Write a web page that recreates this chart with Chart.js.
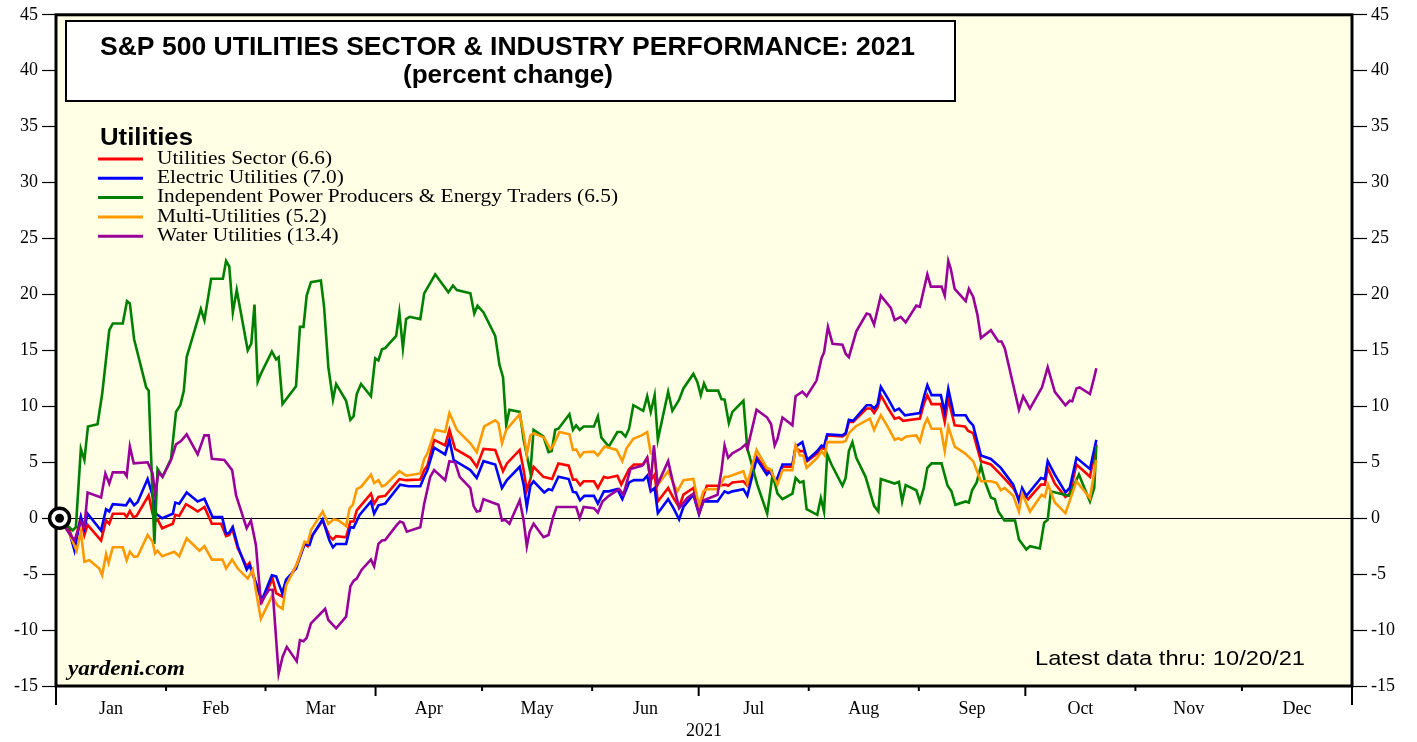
<!DOCTYPE html>
<html>
<head>
<meta charset="utf-8">
<script src="https://cdn.jsdelivr.net/npm/chart.js"></script>
<style>
  body { margin: 0; background: #fff; }
  #wrap { width: 1417px; height: 742px; }
</style>
</head>
<body>
<div id="wrap"><canvas id="perfChart" width="1417" height="742"></canvas></div>
<script>
// x = day of year 2021 (Jan 1 = 1), y = percent change since year end
const utilitiesSector = [[1,0],[3.8,-1.1],[5.2,-2.3],[7,0.1],[8,-1.5],[8.9,-0.6],[12.7,-2.0],[14.1,-0.2],[15,-0.5],[16,0.4],[19.2,0.4],[19.9,0.1],[20.8,0.65],[21.8,0.1],[22.7,0.2],[26.1,2.05],[27.2,0.4],[27.9,-0.3],[28.6,-0.1],[29.9,-0.9],[32.9,-0.5],[33.6,0.3],[34.7,0.2],[36.6,1.25],[38.5,0.9],[39.9,0.6],[41.8,1.0],[43.9,-0.5],[46.5,-0.5],[47.9,-1.6],[48.8,-1.5],[49.6,-0.9],[51.2,-2.7],[53.7,-4.3],[54.5,-4.0],[56.3,-5.8],[58,-7.5],[61,-5.4],[62,-6.7],[63.7,-7.0],[64.8,-5.8],[67.6,-4.3],[70,-2.3],[70.9,-2.5],[72.3,-1.5],[75.1,-0.2],
  [77,-1.6],[78,-1.9],[78.9,-1.6],[81.7,-1.7],[82.9,-0.3],[83.8,-0.3],[84.7,0.7],[88.7,2.2],[89.6,1.3],[90.8,1.9],[92.7,2.0],[96.7,3.5],[98.6,3.4],[102.6,3.45],[103.7,4.3],[104.6,4.7],[106.5,7.0],[109.6,6.5],[110.8,7.9],[112.4,6.2],[116.7,5.4],[118.5,4.6],[120.4,6.2],[123.7,6.1],[125.9,4.2],[127,4.9],[130.6,6.1],[131.7,4.3],[132.6,2.5],[133.6,3.5],[134.5,4.6],[137.3,3.7],[139.7,3.5],[141.5,4.9],[144.4,4.7],[145.6,3.45],[146.5,3.45],[147.6,2.95],[148.6,3.3],
  [151.5,3.3],[152.6,2.7],[154.3,3.7],[155.3,3.6],[158.1,3.8],[159.2,3.0],[161.4,4.4],[162.8,4.8],[165.4,4.8],[166.5,5.4],[167.5,3.4],[168.6,3.9],[169.5,1.5],[172.4,2.7],[173.9,1.8],[175.5,1.0],[176.7,2.1],[179.5,2.7],[181.1,0.9],[182.3,2.0],[183.3,2.9],[186.3,2.9],[188.6,3.0],[189.3,2.9],[190.5,3.2],[193.6,3.3],[194.7,2.9],[197.3,5.5],[200.2,4.2],[201.1,4.2],[202.7,3.2],[204.6,4.6],[207.4,4.6],[208.3,6.3],[209.5,6.0],[210.7,6.0],[211.6,5.1],[214.4,5.8],[215.4,6.3],[216.3,6.2],[217.2,7.4],[221.5,7.3],[222.4,7.5],[223.3,8.6],
  [224.5,8.6],[228.3,9.8],[229.5,9.8],[230.4,9.4],[231.4,9.9],[232.3,11.0],[234.4,9.8],[236.2,8.9],[237.4,9.0],[238.6,8.7],[243.3,8.9],[244.5,10.3],[245.4,11.0],[246.6,10.2],[249.2,10.2],[250.3,8.6],[251.3,10.65],[253.1,8.3],[256,8.2],[256.9,7.8],[258.3,7.6],[260.5,5.1],[263.3,4.8],[266.1,3.9],[269.6,2.7],[271.2,1.8],[272.1,2.3],[273.8,1.7],[277.4,3.0],[278.5,3.0],[279.3,4.5],[281.3,3.1],[284.3,1.9],[285.5,2.2],[287.4,4.8],[291.2,3.7],[293,6.6]];

const electricUtilities = [[1,0],[3.8,-1.3],[5.2,-2.9],[7,0.1],[8,-0.9],[8.9,0.4],[12.7,-1.1],[14.1,0.8],[15,0.6],[16,1.25],[19.7,1.15],[20.8,1.7],[22,1.15],[23,1.45],[25.8,3.5],[27.2,2.05],[28.2,0.4],[29.9,0],[32.9,0.4],[33.6,1.4],[34.7,1.3],[36.8,2.3],[39.9,1.5],[41.8,1.75],[44.1,0.1],[46.8,0.1],[47.9,-1.4],[48.8,-1.3],[49.8,-0.8],[51.2,-2.5],[53.7,-4.6],[54.5,-4.2],[56.3,-5.8],[58,-7.3],[60.8,-5.1],[62,-5.2],[63.7,-6.7],[64.8,-5.5],[67.6,-4.5],[70,-2.3],[71.4,-2.4],[72.3,-1.5],[75.1,-0.1],
  [77,-2.0],[78,-2.6],[78.9,-2.3],[81.7,-2.3],[82.9,-0.8],[83.8,-0.85],[85.5,0.3],[88.7,1.5],[89.6,0.4],[90.8,1.15],[92.7,1.3],[96.9,3.0],[99.3,2.85],[102.6,2.85],[103.7,3.7],[104.6,4.3],[106.5,6.3],[109.6,5.7],[110.8,7.0],[112,5.2],[116.7,4.3],[118.5,3.6],[120.4,5.1],[123.7,4.8],[125.6,2.7],[127,3.4],[130.6,4.6],[131.7,3.0],[132.6,1.0],[133.6,2.9],[134.5,3.3],[137.5,2.3],[138.7,2.6],[139.7,2.5],[141.5,3.7],[144.4,3.5],[145.6,2.35],[146.5,2.3],[147.6,1.6],[148.8,2.0],
  [151.5,2.0],[152.6,1.3],[154.3,2.4],[155.7,2.4],[158.1,2.6],[159.5,1.7],[161.4,3.2],[162.8,3.4],[165.4,3.4],[166.5,3.8],[167.5,2.4],[168.6,2.7],[169.5,0.45],[172.4,1.7],[173.9,0.9],[175.5,-0.1],[176.7,1.0],[179.5,2.1],[181.1,0.35],[182.3,1.5],[183.3,1.5],[186.3,1.5],[188.3,2.4],[189.3,2.25],[190.5,2.4],[193.6,2.6],[194.7,2.0],[197.3,5.3],[200.2,3.9],[201.1,4.2],[202.7,3.2],[204.6,4.8],[207.4,4.8],[208.3,6.4],[210.2,6.8],[211.6,5.2],[214.4,6.0],[215.6,6.5],[216.3,6.4],[217.2,7.5],[221.5,7.4],[222.4,7.6],[223.3,8.8],
  [224.5,8.7],[228.3,10.1],[229.5,10.1],[230.4,9.8],[231.4,10.2],[232.3,11.75],[234.4,10.65],[236.2,9.6],[237.4,9.8],[239.1,9.2],[243.3,9.4],[244.5,10.9],[245.4,11.9],[246.6,11.0],[249.2,11.0],[250.3,9.5],[251.3,11.55],[252.9,9.2],[256.2,9.2],[257.1,8.7],[258.3,8.3],[260.5,5.6],[263.3,5.3],[266.1,4.5],[269.6,3.0],[271.2,1.5],[272.1,2.7],[273.3,2.0],[277.4,3.6],[278.5,3.5],[279.3,5.1],[281.3,3.9],[284.3,2.3],[285.5,2.7],[287.4,5.4],[291.2,4.4],[293,7.0]];

const powerProducers = [[1,0],[3,-0.6],[4.7,-1.1],[5.6,-0.8],[7,6.2],[8,5.2],[9,8.2],[11.7,8.4],[13,11.1],[15,16.8],[16,17.4],[18.8,17.4],[20,19.4],[20.8,19.2],[22,16.0],[25.4,11.7],[26.1,11.4],[27.7,-2.3],[28.6,4.4],[30,3.7],[32.4,5.3],[33.8,9.5],[35,10.1],[36,11.4],[36.8,14.4],[38.5,16.2],[40.8,18.7],[41.8,17.7],[43.7,21.4],[47,21.4],[47.9,23.0],[48.8,22.5],[49.8,18.4],[50.9,20.4],[54,15.0],[55,15.6],[55.9,19.1],[56.8,12.2],[57.7,12.9],[60.8,14.9],[62,14.2],[62.7,14.4],[63.8,10.2],[67.6,11.8],[68.7,17.1],[69.7,17.1],[70.6,19.9],[71.8,21.1],[74.6,21.25],
  [75.5,18.9],[76.7,13.5],[78,10.6],[78.9,12.0],[81.7,10.5],[82.9,8.8],[83.8,9.1],[84.7,11.1],[85.9,12.0],[88.7,10.9],[89.9,14.3],[90.8,14.1],[91.8,15.1],[92.7,15.2],[95.8,16.3],[96.7,18.4],[97.7,15.2],[98.6,17.8],[99.6,18.0],[102.6,17.8],[103.7,20.1],[106.8,21.8],[110.5,20.2],[111.8,20.8],[112.9,20.4],[116.7,20.1],[117.8,18.3],[118.7,19.0],[120.4,18.4],[123.7,16.3],[124.9,13.7],[125.9,12.6],[126.8,8.3],[127.7,9.7],[130.6,9.5],[131.7,7.0],[133.6,4.1],[134.5,7.9],[137.3,7.3],[138.7,5.9],[139.6,6.0],[140.6,7.9],[141.5,8.0],[144.6,9.3],[145.6,7.9],[146.5,8.3],[147.5,7.9],[148.6,8.2],
  [151.5,8.2],[152.6,9.1],[153.6,7.2],[155.7,6.4],[158.1,7.7],[159.2,7.7],[160.4,7.3],[161.4,8.0],[162.6,10.1],[165.4,9.6],[166.5,10.9],[167.5,9.5],[168.6,11.0],[169.5,7.0],[172.4,11.3],[173.6,9.6],[175.5,10.6],[176.7,11.6],[179.5,12.9],[180.6,12.2],[181.6,11.0],[182.5,12.05],[183.4,11.4],[186.5,11.4],[187.4,10.65],[188.3,10.6],[189.5,8.5],[190.5,9.5],[193.6,10.5],[194.7,6.25],[197.5,3.0],[200.3,0.4],[201.8,3.9],[203.2,2.2],[204.6,1.7],[207.4,2.2],[208.3,3.6],[209.5,3.2],[210.5,3.3],[211.4,0.8],[214.4,0.3],[215.4,1.8],[216.3,0.6],[217.2,5.7],[218.4,4.8],[221.5,2.9],[222.4,3.6],[223.3,6.0],[224.3,6.8],
  [225.4,5.4],[228,3.7],[230.4,1.1],[231.6,0.6],[232.3,3.5],[236.2,3.1],[237.4,3.25],[238.3,1.5],[239.3,2.95],[242.3,2.5],[243.3,1.5],[244.4,2.7],[245.4,4.5],[246.6,4.9],[249.4,4.9],[251.1,2.9],[252.2,2.4],[253.3,1.2],[256.2,1.5],[257.1,1.4],[258,2.5],[259.3,3.2],[260.5,4.7],[261.6,3.3],[263.3,1.85],[264.4,1.7],[265.4,0.6],[267.1,-0.2],[270.1,-0.2],[271.2,-1.9],[273.3,-2.8],[274.3,-2.5],[277.1,-2.7],[278.3,-0.4],[279.3,-0.15],[280.2,2.4],[284,2.1],[285.3,2.0],[286.5,2.8],[288.1,3.9],[289,3.2],[291.2,1.5],[292.4,2.7],[293,6.5]];

const multiUtilities = [[1,0],[3.8,-1.4],[5.8,-2.9],[7,-1.2],[8,-3.9],[9.4,-3.75],[12.2,-4.5],[13,-5.1],[14.1,-3.2],[14.8,-4.0],[16,-2.6],[18.8,-2.6],[19.9,-3.75],[20.8,-3.0],[22,-3.45],[23,-3.4],[25.8,-1.5],[27.2,-2.1],[27.9,-3.15],[28.6,-2.9],[29.9,-3.4],[33.3,-3.0],[34.7,-3.4],[36.8,-1.8],[40.4,-2.9],[41.8,-2.5],[43.9,-3.7],[46.9,-3.7],[47.9,-4.5],[49.6,-3.7],[51.2,-4.5],[54,-5.4],[55.4,-4.6],[56.3,-6.5],[57.7,-9.0],[60.8,-7.0],[62.4,-7.8],[63.8,-8.1],[64.8,-6.0],[68,-4.0],[70,-2.1],[70.9,-2.2],[71.8,-1.07],[75.1,0.6],
  [76.7,-0.5],[78.2,-0.1],[79.6,-0.2],[81.7,-0.7],[82.7,0.9],[83.6,1.2],[84.7,2.6],[85.9,2.8],[88.7,3.9],[89.6,3.15],[90.8,3.4],[91.8,2.85],[92.7,2.95],[96.7,4.2],[98.6,3.8],[102.6,4.0],[103.7,5.3],[104.6,5.8],[106.8,7.9],[109.6,7.7],[110.8,9.4],[112.9,7.9],[116.7,6.7],[118.5,5.9],[120.6,8.2],[123.7,8.75],[124.6,8.5],[125.6,6.7],[126.8,7.9],[130.6,9.3],[131.7,7.6],[132.6,5.7],[133.6,7.4],[134.5,7.6],[137.5,7.2],[139.2,6.2],[139.9,6.4],[141.8,7.7],[144.6,7.5],[145.6,6.1],[146.5,6.15],[147.6,5.5],[148.6,5.9],
  [151.5,5.95],[152.6,5.6],[154.5,6.4],[157.9,6.1],[159.5,5.1],[160.7,6.25],[162.6,7.1],[164.9,7.4],[166.5,7.7],[167.5,5.8],[168.4,5.7],[169.5,3.0],[172.4,4.2],[173.9,3.1],[175,2.4],[176.7,3.4],[179.5,3.5],[181.1,1.1],[182.3,2.4],[183.3,2.6],[186.5,2.6],[188.3,3.7],[189.3,3.7],[193.6,4.2],[194.7,3.1],[197.3,6.1],[200.2,4.5],[201.1,4.4],[203.2,3.0],[204.6,4.3],[207.4,4.3],[208.3,6.5],[209.5,5.6],[210.5,5.6],[211.4,4.5],[214.4,5.4],[215.6,6.0],[216.5,5.6],[217.2,6.8],[221.5,6.8],[222.4,6.9],[223.3,7.6],
  [225.2,8.2],[229.2,8.9],[230.4,7.9],[232.3,9.2],[234.4,8.1],[236.2,7.0],[237.2,7.15],[238.1,7.0],[239.5,7.3],[242.3,7.4],[243.3,6.85],[244.5,8.3],[245.4,8.9],[246.6,8.0],[249.2,8.0],[250.3,6.0],[251.3,8.2],[253.1,6.4],[256,5.8],[258.3,5.1],[260.5,3.3],[263.3,3.3],[264.9,3.15],[266.1,2.5],[267.2,2.7],[269.6,2.0],[271.2,0.6],[272.1,2.2],[274.3,0.6],[277.6,2.1],[278.5,1.9],[279.4,3.0],[281.3,1.4],[284.3,0.45],[287.4,3.3],[291.2,1.8],[293,5.2]];

const waterUtilities = [[1,0],[3.8,-1.4],[5.2,-2.0],[7,-0.3],[8,-0.8],[8.9,2.3],[12.7,1.85],[13.9,4.0],[15,3.1],[16,4.1],[19.2,4.1],[19.9,3.75],[20.8,6.4],[21.9,4.9],[25.8,5.0],[27.2,4.0],[27.9,2.2],[28.9,4.1],[30,3.7],[32.4,5.2],[33.8,6.6],[35.2,6.9],[36.8,7.5],[39.9,5.7],[41.8,7.4],[43,7.4],[43.9,5.3],[47.4,5.2],[49.6,4.3],[50.7,2.05],[53.7,-0.9],[54.9,-0.2],[56.3,-2.4],[57.7,-7.5],[60,-6.4],[61,-6.4],[62.7,-13.9],[63.8,-12.4],[65,-11.5],[67.8,-12.8],[68.7,-10.9],[69.7,-11.0],[70.6,-10.7],[71.8,-9.4],[74.6,-8.5],[75.8,-8.1],
  [76.7,-9.1],[78.9,-9.85],[81.7,-8.8],[82.9,-6.1],[83.8,-5.6],[84.7,-5.4],[86.1,-4.6],[88.7,-3.7],[89.6,-4.3],[90.8,-2.3],[91.8,-2.0],[92.7,-1.95],[96,-0.6],[96.9,-0.3],[97.8,-0.4],[98.8,-1.2],[102.6,-0.8],[103.7,1.3],[105.4,3.7],[106.5,4.3],[109.6,3.4],[110.8,5.1],[112.4,5.0],[113.7,3.7],[116.7,2.7],[117.6,1.1],[118.5,0.6],[119.4,0.65],[120.4,1.7],[124.6,1.2],[125.6,-0.2],[126.5,-0.15],[127.7,-0.5],[130.6,1.6],[131.7,-0.2],[132.6,-2.5],[133.4,-1.2],[134.5,-0.5],[137.3,-1.7],[138.7,-1.5],[140.1,0.2],[141,1.0],[144.4,1.0],[146.5,1.0],[147.5,0],[148.6,1.0],
  [151.5,0.9],[152.6,0.5],[153.9,1.5],[155.7,2.0],[158.6,2.6],[159.8,2.1],[161.8,4.4],[165.1,4.7],[166.5,5.4],[167.5,3.2],[168.4,6.5],[169.4,3.0],[172.4,5.1],[173.9,3.0],[175.5,0.9],[177.8,1.8],[179.5,2.2],[181.1,0.45],[182.5,1.6],[186.3,2.1],[187.4,4.2],[188.3,6.5],[189.3,5.4],[190.5,5.8],[193,6.25],[194.2,6.6],[194.7,6.2],[197.3,9.7],[200.3,9.0],[201.4,8.4],[202.4,6.5],[203.2,7.1],[204.6,9.0],[207.4,8.3],[208.3,10.9],[210.2,11.3],[211.4,10.9],[214.2,12.3],[215.6,14.3],[216.3,14.8],[217.4,17.1],[218.7,15.6],[221.5,15.5],[222.4,14.7],[223.3,14.4],
  [225.4,16.7],[228.3,18.3],[229.2,18.2],[230.4,17.3],[232.3,19.9],[235.1,18.8],[236.2,17.7],[237.9,18.0],[239.3,17.5],[242.3,19.0],[243.3,18.9],[245.4,21.8],[246.4,20.7],[249.4,20.7],[250.3,19.9],[251.3,23.0],[252,22.3],[253.1,20.5],[256.2,19.4],[257.1,20.5],[258.3,19.8],[259.5,18.2],[260.5,16.1],[263.3,16.8],[265.4,15.8],[266.3,15.8],[267.2,15.2],[271.2,9.7],[272.4,10.9],[274.3,9.8],[277.7,11.7],[279.3,13.5],[281.3,11.3],[284.3,10.1],[285.5,10.5],[286.2,10.45],[287.4,11.6],[288.3,11.7],[291.2,11.1],[292.4,12.6],[293,13.4]];

const seriesLabels = ['Utilities Sector (6.6)', 'Electric Utilities (7.0)', 'Independent Power Producers & Energy Traders (6.5)', 'Multi-Utilities (5.2)', 'Water Utilities (13.4)'];
const seriesColors = ['#ff0000', '#0000ff', '#008000', '#ff9900', '#990099'];
const monthLabels = ['Jan', 'Feb', 'Mar', 'Apr', 'May', 'Jun', 'Jul', 'Aug', 'Sep', 'Oct', 'Nov', 'Dec'];
const monthStarts = [0, 31, 59, 90, 120, 151, 181, 212, 243, 273, 304, 334, 365];

const allSeries = [utilitiesSector, electricUtilities, powerProducers, multiUtilities, waterUtilities];
const monthMids = monthLabels.map((m, i) => (monthStarts[i] + monthStarts[i + 1]) / 2);

// draw text squeezed/stretched to a given width (left edge x, middle y)
function fitText(ctx, text, x, y, width, font) {
  ctx.save();
  ctx.font = font;
  const w = ctx.measureText(text).width;
  ctx.translate(x, y);
  ctx.scale(width / w, 1);
  ctx.textAlign = 'left';
  ctx.textBaseline = 'middle';
  ctx.fillStyle = '#000';
  ctx.fillText(text, 0, 0);
  ctx.restore();
}

const frame = {
  id: 'frame',
  beforeDraw(chart) {
    const { ctx, chartArea: a } = chart;
    ctx.save();
    ctx.fillStyle = '#ffffe6';
    ctx.fillRect(a.left, a.top, a.right - a.left, a.bottom - a.top);
    ctx.restore();
  },
  beforeDatasetsDraw(chart) {
    const { ctx, chartArea: a, scales } = chart;
    ctx.save();
    ctx.strokeStyle = '#000';
    ctx.lineWidth = 3;
    ctx.strokeRect(a.left, a.top, a.right - a.left, a.bottom - a.top);
    // month boundary ticks, longer at quarters and axis ends
    ctx.lineWidth = 2;
    monthStarts.forEach((d, i) => {
      const x = scales.x.getPixelForValue(d);
      let len = 5;
      if (i % 3 === 0) len = 10;
      if (i === 0 || i === 12) len = 19;
      ctx.beginPath();
      ctx.moveTo(x, a.bottom);
      ctx.lineTo(x, a.bottom + len);
      ctx.stroke();
    });
    ctx.restore();
  },
  afterDatasetsDraw(chart) {
    const { ctx } = chart;
    ctx.save();
    // title box
    ctx.fillStyle = '#fff';
    ctx.fillRect(66, 21, 889, 80);
    ctx.strokeStyle = '#000';
    ctx.lineWidth = 2;
    ctx.strokeRect(66, 21, 889, 80);
    fitText(ctx, 'S&P 500 UTILITIES SECTOR & INDUSTRY PERFORMANCE: 2021', 100, 48, 815, 'bold 25px "Liberation Sans"');
    fitText(ctx, '(percent change)', 403, 76, 210, 'bold 25px "Liberation Sans"');

    // legend
    fitText(ctx, 'Utilities', 100, 139, 93, 'bold 23px "Liberation Sans"');
    const legFont = '18px "Liberation Serif"';
    ctx.font = legFont;
    const sx = 461 / ctx.measureText(seriesLabels[2]).width;
    seriesLabels.forEach((lab, i) => {
      const y = 159 + i * 19.3;
      ctx.strokeStyle = seriesColors[i];
      ctx.lineWidth = 3;
      ctx.beginPath();
      ctx.moveTo(98, y);
      ctx.lineTo(143, y);
      ctx.stroke();
      ctx.font = legFont;
      fitText(ctx, lab, 157, y, ctx.measureText(lab).width * sx, legFont);
    });

    fitText(ctx, 'yardeni.com', 68, 670, 117, 'italic bold 20px "Liberation Serif"');
    fitText(ctx, 'Latest data thru: 10/20/21', 1035, 659, 270, '21px "Liberation Sans"');
    ctx.restore();
  }
};

const datasets = allSeries.map((s, i) => ({
  label: seriesLabels[i],
  data: s.map(([d, v]) => ({ x: d, y: v })),
  borderColor: seriesColors[i],
  borderWidth: 2.6,
  pointRadius: 0,
  tension: 0,
  order: 10 - i
}));
// base-period marker
datasets.push({ data: [{ x: 1, y: 0 }], pointRadius: 10, pointBackgroundColor: '#fff', pointBorderColor: '#000', pointBorderWidth: 3.5, showLine: false, clip: false, order: -1 });
datasets.push({ data: [{ x: 1, y: 0 }], pointRadius: 4.5, pointBackgroundColor: '#000', pointBorderWidth: 0, showLine: false, clip: false, order: -2 });

const tickFont = { family: 'Liberation Serif', size: 18 };

new Chart(document.getElementById('perfChart').getContext('2d'), {
  type: 'line',
  data: { datasets },
  options: {
    responsive: false,
    animation: false,
    layout: { padding: { top: 14 } },
    plugins: { legend: { display: false }, tooltip: { enabled: false } },
    scales: {
      x: {
        type: 'linear', min: 0, max: 365,
        afterBuildTicks(s) { s.ticks = monthMids.map(v => ({ value: v })); },
        afterFit(s) { s.height = 56; },
        ticks: { autoSkip: false, maxRotation: 0, padding: 12, color: '#000', font: tickFont,
          callback: (v, i) => monthLabels[i] },
        grid: { drawOnChartArea: false, drawTicks: false },
        border: { display: false },
        title: { display: true, text: '2021', color: '#000', font: tickFont, padding: { top: 0, bottom: 0 } }
      },
      y: {
        position: 'left', min: -15, max: 45,
        afterFit(s) { s.width = 56; },
        ticks: { stepSize: 5, padding: 4, color: '#000', font: tickFont },
        grid: { color: c => (c.tick && c.tick.value === 0 ? '#000' : 'rgba(0,0,0,0)'), lineWidth: 1,
          tickColor: '#000', tickLength: 14, tickWidth: 1.2 },
        border: { display: false }
      },
      y2: {
        position: 'right', min: -15, max: 45,
        afterFit(s) { s.width = 65; },
        ticks: { stepSize: 5, padding: 4, color: '#000', font: tickFont },
        grid: { drawOnChartArea: false, tickColor: '#000', tickLength: 15, tickWidth: 1.2 },
        border: { display: false }
      }
    }
  },
  plugins: [frame]
});
</script>
</body>
</html>
